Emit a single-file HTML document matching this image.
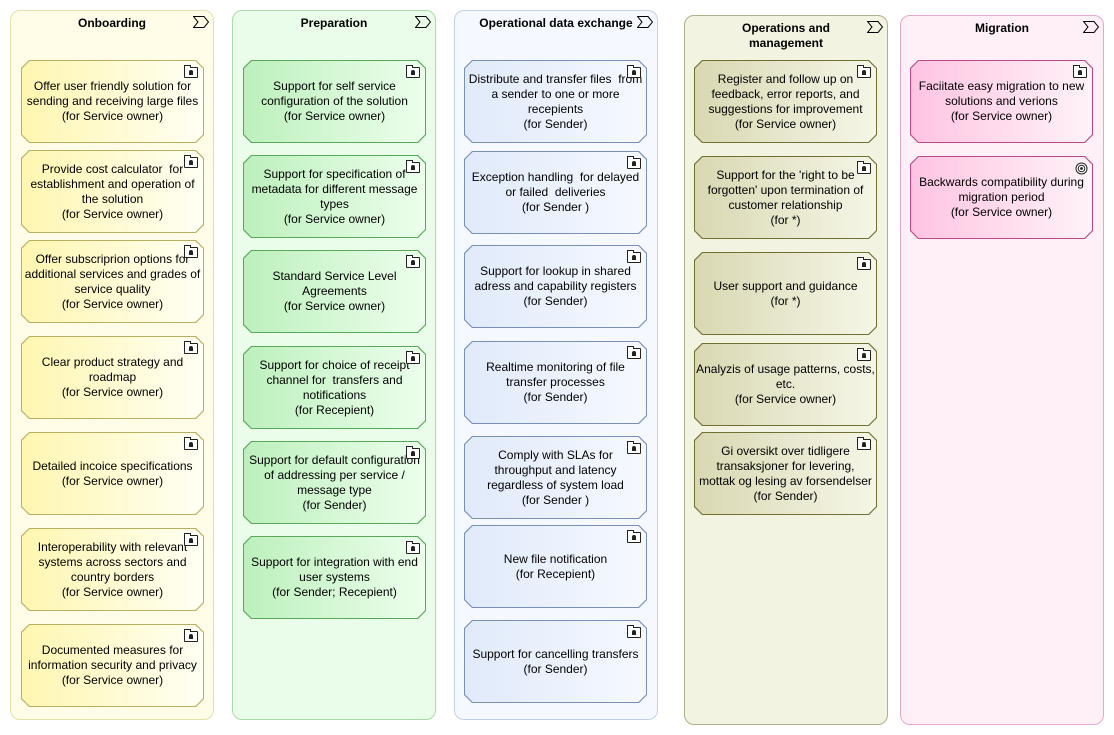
<!DOCTYPE html>
<html><head><meta charset="utf-8"><style>
body{margin:0;width:1114px;height:735px;background:#fff;position:relative;overflow:hidden;font-family:"Liberation Sans",sans-serif;font-size:12px;color:#000}
.col{position:absolute;border:1px solid;border-radius:10px;box-sizing:border-box}
.ttl{position:absolute;left:0;right:0;top:5px;text-align:center;font-weight:bold;line-height:15px}
.chev{position:absolute;right:4px;top:5px}
.b{position:absolute;width:183px;height:83px;clip-path:polygon(8px 0,175px 0,183px 8px,183px 75px,175px 83px,8px 83px,0 75px,0 8px)}
.b .in{position:absolute;inset:1px;clip-path:polygon(7.6px 0,173.4px 0,181px 7.6px,181px 73.4px,173.4px 81px,7.6px 81px,0 73.4px,0 7.6px);display:flex;align-items:center;justify-content:center;text-align:center;line-height:15px;padding:0 2px;box-sizing:border-box}
.ic{position:absolute;right:6px;top:7px;width:12px;height:9px;border:1px solid #222;border-radius:1px;background:#fff}
.ic::before{content:"";position:absolute;left:0;top:-3px;width:5px;height:2px;border:1px solid #222;border-bottom:none;background:#fff;left:-1px}
.ic::after{content:"";position:absolute;left:4px;top:2px;width:4px;height:5px;background:#222;border-radius:2px 2px 0 0}
.y{background:#b8b060}.y .in{background:linear-gradient(90deg,#fff6b0,#fffff4)}
.g{background:#58a858}.g .in{background:linear-gradient(90deg,#bdf0bd,#ecffec)}
.bl{background:#7890b8}.bl .in{background:linear-gradient(90deg,#e0eafa,#f6f9ff)}
.o{background:#707030}.o .in{background:linear-gradient(90deg,#d8d8b2,#f6f6e8)}
.p{background:#c04888}.p .in{background:linear-gradient(90deg,#ffc4e2,#fff2f8)}
</style></head><body>
<svg width="0" height="0" style="position:absolute"><defs><symbol id="ch" viewBox="0 0 16 12"><path d="M0.5 0.5H11L15.5 6L11 11.5H0.5L5 6Z" fill="none" stroke="#000" stroke-width="1"/></symbol></defs></svg>

<div class="col" style="left:10px;top:10px;width:204px;height:710px;background:#fffde8;border-color:#e4e0a8"><div class="ttl">Onboarding</div><svg class="chev" width="16" height="12"><use href="#ch"/></svg></div>
<div class="col" style="left:232px;top:10px;width:204px;height:710px;background:#eafdea;border-color:#a8dca8"><div class="ttl">Preparation</div><svg class="chev" width="16" height="12"><use href="#ch"/></svg></div>
<div class="col" style="left:454px;top:10px;width:204px;height:710px;background:#f5f9ff;border-color:#c0d0e8"><div class="ttl">Operational data exchange</div><svg class="chev" width="16" height="12"><use href="#ch"/></svg></div>
<div class="col" style="left:684px;top:15px;width:204px;height:710px;background:#f3f3e2;border-color:#b0b088"><div class="ttl">Operations and<br>management</div><svg class="chev" width="16" height="12"><use href="#ch"/></svg></div>
<div class="col" style="left:900px;top:15px;width:204px;height:710px;background:#fff0f8;border-color:#e4a8cc"><div class="ttl">Migration</div><svg class="chev" width="16" height="12"><use href="#ch"/></svg></div>

<!-- Onboarding -->
<div class="b y" style="left:21px;top:60px"><div class="in">Offer user friendly solution for sending and receiving large files<br>(for Service owner)</div><div class="ic"></div></div>
<div class="b y" style="left:21px;top:150px"><div class="in">Provide cost calculator&nbsp; for establishment and operation of the solution<br>(for Service owner)</div><div class="ic"></div></div>
<div class="b y" style="left:21px;top:240px"><div class="in">Offer subscriprion options for<br>additional services and grades of service quality<br>(for Service owner)</div><div class="ic"></div></div>
<div class="b y" style="left:21px;top:336px"><div class="in">Clear product strategy and roadmap<br>(for Service owner)</div><div class="ic"></div></div>
<div class="b y" style="left:21px;top:432px"><div class="in">Detailed incoice specifications<br>(for Service owner)</div><div class="ic"></div></div>
<div class="b y" style="left:21px;top:528px"><div class="in">Interoperability with relevant systems across sectors and country borders<br>(for Service owner)</div><div class="ic"></div></div>
<div class="b y" style="left:21px;top:624px"><div class="in">Documented measures for information security and privacy<br>(for Service owner)</div><div class="ic"></div></div>

<!-- Preparation -->
<div class="b g" style="left:243px;top:60px"><div class="in">Support for self service configuration of the solution<br>(for Service owner)</div><div class="ic"></div></div>
<div class="b g" style="left:243px;top:155px"><div class="in">Support for specification of metadata for different message types<br>(for Service owner)</div><div class="ic"></div></div>
<div class="b g" style="left:243px;top:250px"><div class="in">Standard Service Level Agreements<br>(for Service owner)</div><div class="ic"></div></div>
<div class="b g" style="left:243px;top:346px"><div class="in">Support for choice of receipt channel for&nbsp; transfers and notifications<br>(for Recepient)</div><div class="ic"></div></div>
<div class="b g" style="left:243px;top:441px"><div class="in">Support for default configuration of addressing per service / message type<br>(for Sender)</div><div class="ic"></div></div>
<div class="b g" style="left:243px;top:536px"><div class="in">Support for integration with end user systems<br>(for Sender; Recepient)</div><div class="ic"></div></div>

<!-- Operational -->
<div class="b bl" style="left:464px;top:60px"><div class="in">Distribute and transfer files&nbsp; from a sender to one or more recepients<br>(for Sender)</div><div class="ic"></div></div>
<div class="b bl" style="left:464px;top:151px"><div class="in">Exception handling&nbsp; for delayed or failed&nbsp; deliveries<br>(for Sender )</div><div class="ic"></div></div>
<div class="b bl" style="left:464px;top:245px"><div class="in">Support for lookup in shared adress and capability registers<br>(for Sender)</div><div class="ic"></div></div>
<div class="b bl" style="left:464px;top:341px"><div class="in">Realtime monitoring of file transfer processes<br>(for Sender)</div><div class="ic"></div></div>
<div class="b bl" style="left:464px;top:436px"><div class="in">Comply with SLAs for<br>throughput and latency<br>regardless of system load<br>(for Sender )</div><div class="ic"></div></div>
<div class="b bl" style="left:464px;top:525px"><div class="in">New file notification<br>(for Recepient)</div><div class="ic"></div></div>
<div class="b bl" style="left:464px;top:620px"><div class="in">Support for cancelling transfers<br>(for Sender)</div><div class="ic"></div></div>

<!-- Operations -->
<div class="b o" style="left:694px;top:60px"><div class="in">Register and follow up on feedback, error reports, and suggestions for improvement<br>(for Service owner)</div><div class="ic"></div></div>
<div class="b o" style="left:694px;top:156px"><div class="in">Support for the 'right to be forgotten' upon termination of customer relationship<br>(for *)</div><div class="ic"></div></div>
<div class="b o" style="left:694px;top:252px"><div class="in">User support and guidance<br>(for *)</div><div class="ic"></div></div>
<div class="b o" style="left:694px;top:343px"><div class="in"><div><span style="white-space:nowrap">Analyzis of usage patterns, costs,</span><br>etc.<br>(for Service owner)</div></div><div class="ic"></div></div>
<div class="b o" style="left:694px;top:432px"><div class="in">Gi oversikt over tidligere transaksjoner for levering, mottak og lesing av forsendelser<br>(for Sender)</div><div class="ic"></div></div>

<!-- Migration -->
<div class="b p" style="left:910px;top:60px"><div class="in">Faciitate easy migration to new solutions and verions<br>(for Service owner)</div><div class="ic"></div></div>
<div class="b p" style="left:910px;top:156px"><div class="in">Backwards compatibility during migration period<br>(for Service owner)</div>
<svg style="position:absolute;right:5px;top:6px" width="13" height="13"><circle cx="6.5" cy="6.5" r="5.5" fill="#fff" stroke="#222"/><circle cx="6.5" cy="6.5" r="3.3" fill="none" stroke="#222"/><circle cx="6.5" cy="6.5" r="1.4" fill="#222"/></svg></div>
</body></html>
